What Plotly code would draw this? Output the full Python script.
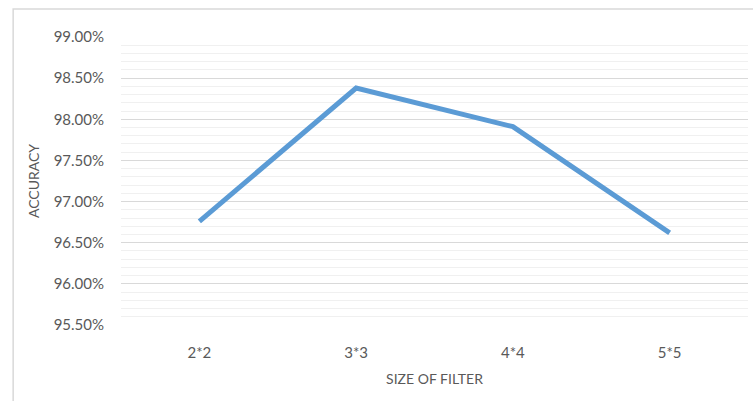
import plotly.graph_objects as go

# Accuracy for each convolution filter size
filter_sizes = ["2*2", "3*3", "4*4", "5*5"]
accuracy = [0.9676, 0.9838, 0.9791, 0.9662]

y_ticks = [0.955, 0.960, 0.965, 0.970, 0.975, 0.980, 0.985, 0.990]

text_color = "#595959"
font_family = "Lato, 'Open Sans', sans-serif"

fig = go.Figure()
fig.add_trace(go.Scatter(
    x=list(range(len(filter_sizes))),
    y=accuracy,
    mode="lines",
    line=dict(color="#5B9BD5", width=5),
    hoverinfo="skip",
))

fig.update_layout(
    width=753,
    height=401,
    margin=dict(l=121, r=5, t=37, b=76),
    paper_bgcolor="white",
    plot_bgcolor="white",
    showlegend=False,
    font=dict(family=font_family, size=14, color=text_color),
    xaxis=dict(
        range=[-0.5, len(filter_sizes) - 0.5],
        tickmode="array",
        tickvals=list(range(len(filter_sizes))),
        ticktext=filter_sizes,
        showgrid=False,
        zeroline=False,
        showline=False,
        ticks="",
        ticklabelstandoff=17,
        tickfont=dict(size=15, color=text_color),
        title=dict(text="SIZE OF FILTER", font=dict(size=14, color=text_color), standoff=14),
    ),
    yaxis=dict(
        range=[0.955, 0.990],
        tickmode="array",
        tickvals=y_ticks,
        tickformat=".2%",
        showgrid=True,
        gridcolor="#d9d9d9",
        gridwidth=1,
        zeroline=False,
        showline=False,
        ticks="",
        ticklabelstandoff=16,
        tickfont=dict(size=15, color=text_color),
        minor=dict(dtick=0.001, tick0=0.955, showgrid=True, gridcolor="#f0f0f0", gridwidth=1),
        title=dict(text="ACCURACY", font=dict(size=14, color=text_color), standoff=10),
    ),
    shapes=[dict(
        type="rect", xref="paper", yref="paper",
        x0=-0.172, x1=1.03, y0=-0.32, y1=1.097,
        line=dict(color="#d9d9d9", width=1.5),
        layer="below",
    )],
)

fig.write_html("out.html")
